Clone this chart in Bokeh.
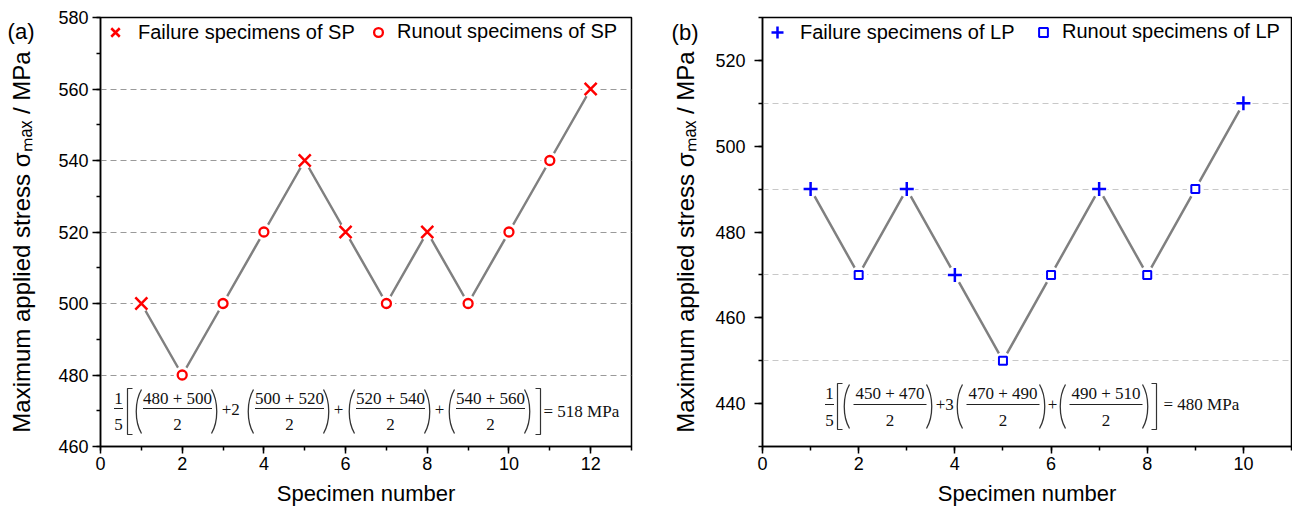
from bokeh.plotting import figure
from bokeh.models import Range1d, SingleIntervalTicker, FixedTicker, LinearAxis, Legend, LegendItem
from bokeh.layouts import row
from bokeh.embed import file_html
from bokeh.resources import INLINE
from bokeh.core.properties import value

# ---------------- data ----------------
sp_specimen = [1, 2, 3, 4, 5, 6, 7, 8, 9, 10, 11, 12]
sp_stress = [500, 480, 500, 520, 540, 520, 500, 520, 500, 520, 540, 560]
sp_failure = [True, False, False, False, True, True, False, True, False, False, False, True]

lp_specimen = [1, 2, 3, 4, 5, 6, 7, 8, 9, 10]
lp_stress = [490, 470, 490, 470, 450, 470, 490, 470, 490, 510]
lp_failure = [True, False, True, True, False, False, True, False, False, True]

lp_grid_levels = [450, 470, 490, 510]

sp_pairs = [("480", "500"), ("500", "520"), ("520", "540"), ("540", "560")]
sp_coefs = ["", "2", "", ""]
sp_result = "= 518 MPa"

lp_pairs = [("450", "470"), ("470", "490"), ("490", "510")]
lp_coefs = ["", "3", ""]
lp_result = "= 480 MPa"

y_label = "Maximum applied stress σₘₐₓ / MPa"
x_label = "Specimen number"

H = 517
BT, BB = 17, 71
SANS = "Liberation Sans"
SERIF = "Liberation Serif"


def make_fig(width, bl, br, xr, yr, grid_levels=None):
    p = figure(width=width, height=H, x_range=Range1d(*xr), y_range=Range1d(*yr),
               output_backend="svg", toolbar_location=None,
               min_border_left=bl, min_border_right=br,
               min_border_top=BT, min_border_bottom=BB)
    p.outline_line_color = "black"
    p.outline_line_width = 1.5
    p.xgrid.grid_line_color = None
    p.xaxis.ticker = SingleIntervalTicker(interval=2, num_minor_ticks=2)
    p.yaxis.ticker = SingleIntervalTicker(interval=20, num_minor_ticks=2)
    if grid_levels is not None:
        p.ygrid.ticker = FixedTicker(ticks=grid_levels)
        p.ygrid.grid_line_color = "#c8c8c8"
    else:
        p.ygrid.grid_line_color = "#9a9a9a"
    p.ygrid.grid_line_dash = "6 4"
    p.ygrid.grid_line_width = 1.2
    for ax in (p.xaxis[0], p.yaxis[0]):
        ax.axis_line_width = 1.5
        ax.axis_line_color = "black"
        ax.major_tick_line_color = "black"
        ax.minor_tick_line_color = "black"
        ax.major_tick_line_width = 1.5
        ax.minor_tick_line_width = 1.5
        ax.major_tick_in = 0
        ax.minor_tick_in = 0
        ax.major_label_text_font = SANS
        ax.major_label_text_font_size = "18px"
        ax.major_label_text_color = "black"
        ax.axis_label_text_font = SANS
        ax.axis_label_text_font_style = "normal"
        ax.axis_label_text_color = "black"
    p.xaxis.axis_label_text_font_size = "22px"
    p.xaxis.major_tick_out = 7
    p.xaxis.minor_tick_out = 4
    p.xaxis.major_label_standoff = 3
    p.xaxis.axis_label_standoff = 8
    p.yaxis.major_tick_out = 8
    p.yaxis.minor_tick_out = 4
    p.xaxis.axis_label = x_label
    return p


def outer_axis(p, tag, tag_y, tag_standoff, label_standoff):
    # second left axis, stacked outside the numeric one: carries the panel tag
    # as its only tick label, and the y-axis title
    ax = LinearAxis(ticker=FixedTicker(ticks=[tag_y]),
                    major_label_overrides={tag_y: tag},
                    axis_line_color=None, major_tick_line_color=None, minor_tick_line_color=None,
                    major_tick_out=0, major_tick_in=0, minor_tick_out=0, minor_tick_in=0,
                    major_label_standoff=tag_standoff, major_label_text_font=SANS,
                    major_label_text_font_size="22px", major_label_text_color="black",
                    axis_label=y_label + "\u00a0\u00a0\u00a0", axis_label_standoff=label_standoff,
                    axis_label_text_font=SANS, axis_label_text_font_size="24px",
                    axis_label_text_font_style="normal", axis_label_text_color="black")
    p.add_layout(ax, "left")


def legend_box(p, label, renderer, location, glyph):
    leg = Legend(items=[LegendItem(label=label, renderers=[renderer])],
                 orientation="horizontal", location=location,
                 border_line_color=None, background_fill_alpha=0,
                 label_text_font=SANS, label_text_font_size="20px", label_text_color="black",
                 glyph_width=glyph, glyph_height=glyph, label_standoff=8,
                 margin=0, padding=0)
    p.add_layout(leg)


def draw_series(p, xs, ys, fail, fail_marker, run_marker, color, fail_label, run_label, run_leg_x):
    p.line(xs, ys, line_color="#808080", line_width=2.5)
    p.scatter(xs, ys, marker="circle", size=17, fill_color="white", line_color=None)
    fx = [x for x, f in zip(xs, fail) if f]
    fy = [y for y, f in zip(ys, fail) if f]
    rx = [x for x, f in zip(xs, fail) if not f]
    ry = [y for y, f in zip(ys, fail) if not f]
    if fail_marker == "x":
        r1 = p.scatter(fx, fy, marker="x", size=17, line_color=color, line_width=2.5)
    else:
        r1 = p.scatter(fx, fy, marker="cross", size=14, line_color=color, line_width=2.5)
    if run_marker == "circle":
        r2 = p.scatter(rx, ry, marker="circle", size=9, line_color=color, fill_color="white", line_width=2.3)
    else:
        r2 = p.scatter(rx, ry, marker="square", size=8, line_color=color, fill_color="white", line_width=2.0)
    legend_box(p, fail_label, r1, "top_left", 30)
    legend_box(p, run_label, r2, (run_leg_x, H - BT - BB - 26), 22)


def draw_formula(p, geo, lay, pairs, coefs, result):
    fl, ft, fw, fh, xr, yr = geo

    def X(px):
        return xr[0] + (px - fl) / fw * (xr[1] - xr[0])

    def Y(py):
        return yr[0] + (ft + fh - py) / fh * (yr[1] - yr[0])

    tx, ty, tt = [], [], []
    seg = {"x0": [], "y0": [], "x1": [], "y1": []}
    bz = {"x0": [], "y0": [], "x1": [], "y1": [], "cx0": [], "cy0": [], "cx1": [], "cy1": []}
    top, bot = lay["top"], lay["bot"]

    fx = lay["frac_x"]
    tx += [X(fx), X(fx)]; ty += [Y(lay["num_y"]), Y(lay["den_y"])]; tt += ["1", "5"]
    seg["x0"].append(X(fx - 4.5)); seg["x1"].append(X(fx + 4.5))
    seg["y0"].append(Y(lay["bar_y"])); seg["y1"].append(Y(lay["bar_y"]))

    lb, rb = lay["lb_x"], lay["rb_x"]
    br_xs = [[X(lb + 5), X(lb), X(lb), X(lb + 5)], [X(rb - 5), X(rb), X(rb), X(rb - 5)]]
    br_ys = [[Y(top), Y(top), Y(bot), Y(bot)]] * 2

    gi, gw, go = lay["g_in"], lay["g_w"], lay["g_out"]
    for i, (L, (a, b)) in enumerate(zip(lay["groups"], pairs)):
        c = L + gi + gw / 2
        tx += [X(c), X(c)]; ty += [Y(lay["num_y"]), Y(lay["den_y"])]; tt += [f"{a} + {b}", "2"]
        seg["x0"].append(X(L + gi)); seg["x1"].append(X(L + gi + gw))
        seg["y0"].append(Y(lay["bar_y"])); seg["y1"].append(Y(lay["bar_y"]))
        R = L + gi + gw + go
        for (s, cx) in ((L + 6, L - 1), (R - 6, R + 1)):
            bz["x0"].append(X(s)); bz["y0"].append(Y(top + 1))
            bz["x1"].append(X(s)); bz["y1"].append(Y(bot - 1))
            bz["cx0"].append(X(cx)); bz["cy0"].append(Y(top + 13))
            bz["cx1"].append(X(cx)); bz["cy1"].append(Y(bot - 13))
        if i > 0:
            tx.append(X(lay["plus_x"][i - 1])); ty.append(Y(lay["op_y"])); tt.append("+")
        if coefs[i]:
            tx.append(X(lay["coef_x"][i])); ty.append(Y(lay["op_y"])); tt.append(coefs[i])

    p.text(x=tx, y=ty, text=tt, text_font=value(SERIF), text_font_size=value("17px"),
           text_align="center", text_baseline="middle", text_color="#111111")
    p.text(x=[X(lay["res_x"])], y=[Y(lay["res_y"])], text=[result], text_font=value(SERIF),
           text_font_size=value("17px"), text_align="left", text_baseline="middle",
           text_color="#111111")
    p.segment(x0=seg["x0"], y0=seg["y0"], x1=seg["x1"], y1=seg["y1"], line_color="#222222", line_width=1)
    p.bezier(x0=bz["x0"], y0=bz["y0"], x1=bz["x1"], y1=bz["y1"], cx0=bz["cx0"], cy0=bz["cy0"],
             cx1=bz["cx1"], cy1=bz["cy1"], line_color="#333333", line_width=1.3)
    p.multi_line(xs=br_xs, ys=br_ys, line_color="#333333", line_width=1.2)


# ---------------- left panel ----------------
W1, BL1, BR1 = 650, 100, 19
xr1, yr1 = (0, 13), (460, 580)
p1 = make_fig(W1, BL1, BR1, xr1, yr1)
p1.yaxis.major_label_standoff = 4
outer_axis(p1, "(a)", 576, 21, -30)
draw_series(p1, sp_specimen, sp_stress, sp_failure, "x", "circle", "#ff0000",
            "Failure specimens of SP", "Runout specimens of SP", 267)
geo1 = (BL1, BT, W1 - BL1 - BR1, H - BT - BB, xr1, yr1)
lay1 = dict(frac_x=118, num_y=398, bar_y=408, den_y=424, top=388, bot=434,
            lb_x=127, rb_x=540, groups=[135, 247, 348, 448], g_in=7.5, g_w=69, g_out=5.5,
            plus_x=[226, 338, 439], coef_x={1: 235}, op_y=409, res_x=543, res_y=411)
draw_formula(p1, geo1, lay1, sp_pairs, sp_coefs, sp_result)

# ---------------- right panel ----------------
W2, BL2, BR2 = 642, 112, 1
xr2, yr2 = (0, 11), (430, 530)
p2 = make_fig(W2, BL2, BR2, xr2, yr2, grid_levels=lp_grid_levels)
p2.yaxis.major_label_standoff = 9
outer_axis(p2, "(b)", 526.5, 14, -30)
draw_series(p2, lp_specimen, lp_stress, lp_failure, "cross", "square", "#0000ff",
            "Failure specimens of LP", "Runout specimens of LP", 270)
geo2 = (BL2 + W1, BT, W2 - BL2 - BR2, H - BT - BB, xr2, yr2)
lay2 = dict(frac_x=829, num_y=393, bar_y=404, den_y=420, top=383, bot=429,
            lb_x=837, rb_x=1156, groups=[843, 956, 1059], g_in=10, g_w=73, g_out=6,
            plus_x=[940, 1052], coef_x={1: 949}, op_y=404, res_x=1163, res_y=404)
draw_formula(p2, geo2, lay2, lp_pairs, lp_coefs, lp_result)

layout = row(p1, p2)
open("out.html", "w").write(file_html(layout, INLINE))
